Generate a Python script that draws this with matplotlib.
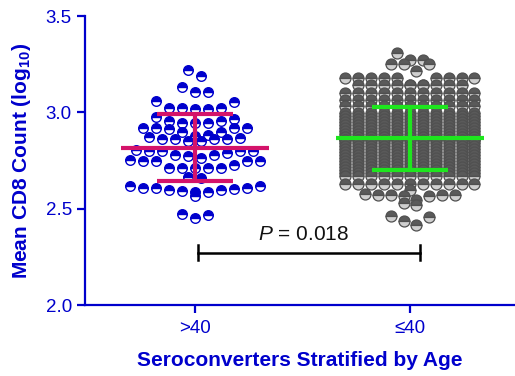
import numpy as np
import matplotlib
matplotlib.use("Agg")
import matplotlib.pyplot as plt

plt.rcParams["font.family"] = ["Liberation Sans", "DejaVu Sans"]
plt.rcParams["mathtext.fontset"] = "custom"
plt.rcParams["mathtext.rm"] = "Liberation Sans"
plt.rcParams["mathtext.it"] = "Liberation Sans:italic"
plt.rcParams["mathtext.bf"] = "Liberation Sans:bold"

# ---- data -----------------------------------------------------------------
categories = [">40", "\u226440"]

# log10 mean CD8 counts, seroconverters older than 40
older_values = [
    3.219, 3.189,
    3.129, 3.108, 3.108,
    3.060, 3.055, 3.020, 3.020, 3.018, 3.020, 3.018,
    2.978, 2.955, 2.946, 2.946, 2.946, 2.955, 2.964,
    2.911, 2.897, 2.920, 2.920, 2.920, 2.920, 2.880, 2.897,
    2.851, 2.877, 2.859, 2.859, 2.859, 2.859, 2.868, 2.871, 2.851,
    2.781, 2.764, 2.798, 2.798, 2.800, 2.790, 2.798, 2.807, 2.772, 2.781,
    2.746, 2.712, 2.746, 2.712, 2.729, 2.712, 2.746, 2.746, 2.712, 2.755, 2.712,
    2.663, 2.660,
    2.608, 2.608, 2.599, 2.590, 2.585, 2.564, 2.585, 2.595, 2.603, 2.608, 2.616, 2.616,
    2.471, 2.453, 2.469,
]

# seroconverters aged 40 or younger: distinct levels and how many share each
younger_levels = [
    3.307, 3.272, 3.253, 3.215,
    3.180, 3.140, 3.100, 3.065, 3.035,
    2.996, 2.981, 2.963, 2.949, 2.934, 2.917, 2.903, 2.886, 2.871, 2.856,
    2.841, 2.824, 2.810, 2.793, 2.779, 2.762, 2.748, 2.731, 2.717, 2.700, 2.686,
    2.670, 2.628,
    2.599, 2.578, 2.573, 2.564,
    2.547, 2.530, 2.520,
    2.460, 2.458, 2.434, 2.417,
]
younger_counts = [
    1, 2, 3, 1,
    9, 11, 11, 11, 11,
    11, 11, 11, 11, 11, 11, 11, 11, 22, 22,
    11, 11, 11, 11, 11, 11, 11, 11, 11, 11, 11,
    11, 11,
    1, 1, 4, 2,
    1, 1, 1,
    1, 1, 1, 1,
]
younger_values = list(np.repeat(younger_levels, younger_counts))

p_text = "$P$ = 0.018"


# ---- column scatter layout ------------------------------------------------
def column_scatter(values, center, step, max_per_row, bin_h):
    """Bin values into rows and spread each row symmetrically about center."""
    vals = sorted(values, reverse=True)
    xs, ys = [], []
    i = 0
    while i < len(vals):
        j = i
        while j < len(vals) and vals[i] - vals[j] <= bin_h + 1e-9:
            j += 1
        group = vals[i:j]
        for k in range(0, len(group), max_per_row):
            chunk = group[k:k + max_per_row]
            n = len(chunk)
            slots = center + (np.arange(n) - (n - 1) / 2) * step
            order = []
            lo, hi = 0, n - 1
            while lo <= hi:
                order.append(lo)
                if lo != hi:
                    order.append(hi)
                lo += 1
                hi -= 1
            for v, s in zip(chunk, order):
                xs.append(slots[s])
                ys.append(v)
        i = j
    return np.array(xs), np.array(ys)


def draw_points(ax, xs, ys, **style):
    # one call per point so that each lower ball sits over the one above it
    for x, y in zip(xs, ys):
        ax.plot([x], [y], ls="none", marker="o", fillstyle="top", zorder=3,
                **style)


# ---- figure ----------------------------------------------------------------
W, H = 515, 376
fig = plt.figure(figsize=(W / 100, H / 100), dpi=100)
ax = fig.add_axes([85 / W, 1 - 305 / H, (W - 85) / W, (305 - 16) / H])

blue = "#0000CC"

bx, by = column_scatter(older_values, 0, 13.0 / 215.0, 11, 0.045)
draw_points(ax, bx, by, ms=6.9, mew=1.0, markerfacecolor=blue,
            markerfacecoloralt="white", markeredgecolor=blue)

gx, gy = column_scatter(younger_values, 1, 12.9 / 215.0, 11, 0.045)
draw_points(ax, gx, gy, ms=7.9, mew=0.9, markerfacecolor="#5a5a5a",
            markerfacecoloralt="#cfcfcf", markeredgecolor="#505050")

# mean and SD bars
bar_colors = ["#D4136A", "#1EE61E"]
for pos, vals, col in zip([0, 1], [older_values, younger_values], bar_colors):
    m = np.mean(vals)
    sd = np.std(vals, ddof=1)
    kw = dict(color=col, lw=3.0, solid_capstyle="butt", zorder=5)
    ax.plot([pos - 0.343, pos + 0.343], [m, m], **kw)
    ax.plot([pos - 0.176, pos + 0.176], [m + sd, m + sd], **kw)
    ax.plot([pos - 0.176, pos + 0.176], [m - sd, m - sd], **kw)
    ax.plot([pos, pos], [m - sd, m + sd], **kw)

# significance bracket
ax.plot([0.015, 1.047], [2.272, 2.272], color="black", lw=1.8, zorder=4)
for xe in (0.015, 1.047):
    ax.plot([xe, xe], [2.232, 2.312], color="black", lw=1.8, zorder=4)
ax.text(0.507, 2.335, p_text, ha="center", va="baseline", fontsize=15,
        color="#111111")

# axes styling
ax.set_xlim(-0.5116, 1.4884)
ax.set_ylim(2.0, 3.5)
ax.set_xticks([0, 1])
ax.set_xticklabels(categories)
ax.set_yticks([2.0, 2.5, 3.0, 3.5])
ax.set_yticklabels(["2.0", "2.5", "3.0", "3.5"])
for side in ("top", "right"):
    ax.spines[side].set_visible(False)
for side in ("left", "bottom"):
    ax.spines[side].set_color(blue)
    ax.spines[side].set_linewidth(1.6)
ax.tick_params(colors=blue, labelcolor=blue, labelsize=13.5, width=1.6,
               length=6, direction="out")
ax.tick_params(axis="x", pad=5)
ax.set_ylabel(r"Mean CD8 Count (log$_{\mathbf{10}}$)", fontsize=15,
              fontweight="bold", color=blue, labelpad=9)
ax.set_xlabel("Seroconverters Stratified by Age", fontsize=15,
              fontweight="bold", color=blue, labelpad=10)

fig.savefig("out.png", dpi=100)
